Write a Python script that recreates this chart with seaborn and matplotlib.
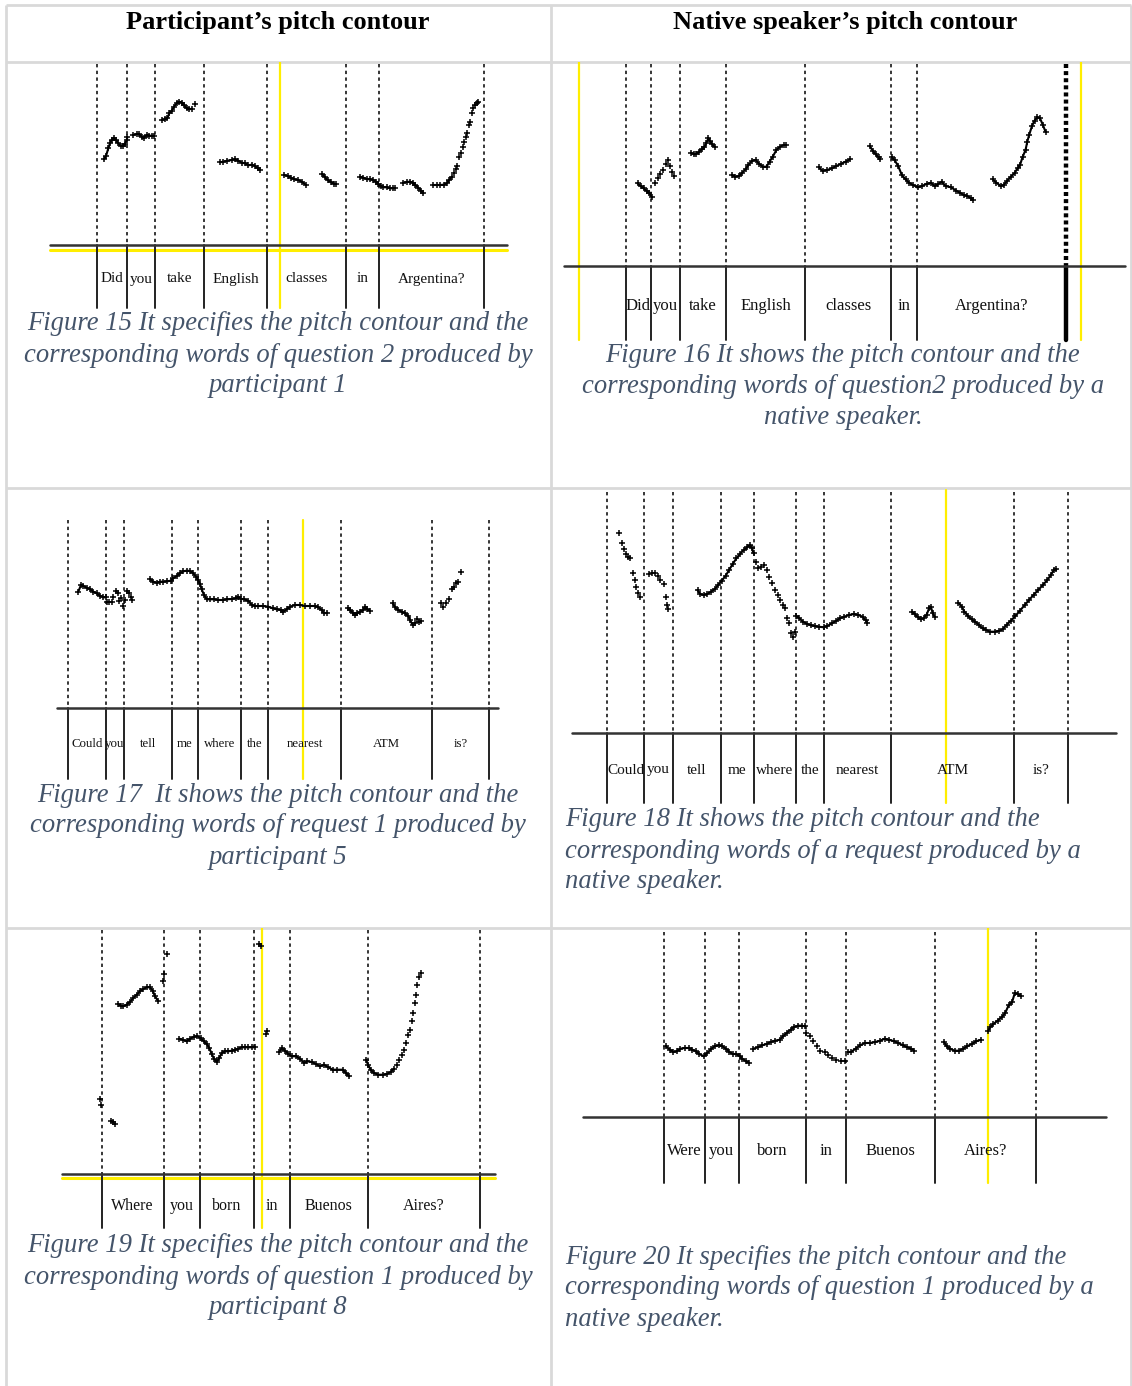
import numpy as np
import pandas as pd
import matplotlib
matplotlib.use("Agg")
import matplotlib.pyplot as plt
import seaborn as sns

sns.set_theme(style="white")
plt.rcParams["font.family"] = ["Liberation Serif", "DejaVu Serif"]

# ---------------------------------------------------------------- data
headers = ["Participant\u2019s pitch contour", "Native speaker\u2019s pitch contour"]

# Figure 15 (participant 1, question 2)
fig15_words = ["Did", "you", "take", "English", "classes", "in", "Argentina?"]
fig15_bounds = [97, 127, 155, 204, 267, 346, 379, 484]
fig15_dense = [
    ([104, 106, 108.3, 110, 111.7, 114, 116, 118.3, 120.7, 122.7, 124.7, 126.7, 127.3],
     [159.3, 156, 148.3, 143.3, 140, 138.3, 140, 143.3, 146, 146, 144, 140, 137.3]),
    ([133.3, 136.7, 139.3, 141.7, 144, 146.7, 149.3, 152, 154],
     [135, 134, 134.3, 136.7, 138, 135, 135.7, 135.7, 135.7]),
    ([161.7, 165, 167.3, 169.3, 171.7, 174, 176.7, 179.3, 182, 184.3, 186.7, 189.3, 191.7],
     [120, 119.3, 118.3, 113.3, 110.7, 106.7, 103.3, 101.7, 102.7, 105.3, 108.3, 109.3, 108.7]),
    ([220, 223.3, 227.3, 231.7, 235, 238.3, 241.7, 245, 248.3, 251.7, 255, 257.7, 260],
     [162.3, 161.7, 160.7, 160, 159.3, 160.7, 162.7, 163.3, 165.3, 164.7, 166, 168.3, 170]),
    ([284.3, 287.7, 291, 294.3, 298.3, 301.7, 306],
     [175, 176, 177.7, 179.3, 180, 181.7, 185]),
    ([322.3, 325, 327.7, 330.7, 334, 336],
     [174, 177.3, 180, 182, 183.7, 184]),
    ([360, 363.3, 366.7, 370, 373.3, 376, 378.3, 380.7, 383.3, 386.7, 390, 393.3, 395],
     [176.7, 177.7, 179, 179.3, 180, 181.7, 184, 186, 187.3, 187.3, 188.3, 188.3, 188]),
    ([403.3, 406.7, 410, 412.7, 415, 418.3, 421, 423.3],
     [182.7, 182, 181.7, 182.7, 185, 187.7, 190.7, 193.3]),
    ([433.3, 436.7, 440, 444, 446.7, 449.3, 451.7],
     [185, 185, 185, 184.7, 183.3, 180, 176.7]),
]
fig15_sparse = [
    ([195], [104]),
    ([454, 456, 457.3, 459.3, 460.7, 462.7, 464, 466, 467.3, 469.3, 470, 471.7, 473.3, 475, 476.7, 478.3],
     [173.3, 169.3, 166, 156.7, 152.7, 146.7, 141.7, 136.7, 132.7, 125, 121.7, 113.3, 108.3, 105, 102.7, 101.7]),
]

# Figure 16 (native speaker, question 2)
fig16_words = ["Did", "you", "take", "English", "classes", "in", "Argentina?"]
fig16_bounds = [626, 651, 680, 726, 805, 891, 917, 1066]
fig16_dense = [
    ([637.5, 640.7, 643.6, 646.5, 649.1, 651.6],
     [183.3, 186, 188.3, 190.7, 193.3, 196.7]),
    ([690.9, 693.8, 696.4, 698.9, 701.8, 704.4, 706.2, 708.4, 709.8, 712, 714.5],
     [152.7, 154.3, 154, 151.7, 149.3, 147.3, 143.3, 138.3, 141, 144, 146.7]),
    ([732, 735.3, 738.9, 741.8, 745.5, 748.4, 752, 755.6, 759.3, 762.9, 766.5, 769.5, 772.7, 776.4, 780, 783.6, 786.2],
     [175, 176.7, 176, 173.3, 169.3, 165, 160.7, 160, 164, 166.7, 166.7, 161.7, 156.7, 150, 146.7, 145, 145]),
    ([818.9, 822.5, 827.3, 832, 836.4, 840.7, 845.5, 850.2],
     [167.3, 170.7, 170, 168.3, 166, 164, 161.7, 159.3]),
    ([869.8, 872.7, 875.6, 878.5, 880],
     [146, 150.7, 154, 157.3, 159.3]),
    ([891.6, 894.5, 898.2, 901.8, 905.5, 909.1, 912.7, 918.2, 921.8, 926.5, 930.9, 934.5, 938.2, 941.8,
      945.5, 950.9, 956.4, 960, 963.6, 967.3, 970.9, 972.7],
     [156.7, 160, 166, 175, 179.3, 182.7, 185, 187.3, 186, 184, 182.7, 186, 184, 181.7,
      186, 187.3, 190.7, 192.7, 195, 196, 198.3, 200]),
    ([992.7, 996.4, 1000.7, 1003.6, 1007.3, 1010.9, 1014.5, 1017.5, 1020, 1022.5, 1025.5, 1027.3, 1029.1,
      1032, 1034.5, 1037.1, 1040, 1042.9, 1045.5],
     [179.3, 182.7, 186, 185, 180.7, 176.7, 173.3, 168.3, 165, 157.3, 150, 141.7, 135,
      126, 120.7, 117.3, 118.3, 125, 131.7]),
]
fig16_sparse = [
    ([655.3, 657.5, 660, 662.5, 665.5, 667.6, 669.8, 672, 674.2],
     [182.7, 178.3, 174, 170, 164, 160, 166, 171.7, 176]),
]

# Figure 17 (participant 5, request 1)
fig17_words = ["Could", "you", "tell", "me", "where", "the", "nearest", "ATM", "is?"]
fig17_bounds = [68, 106, 124, 172, 198, 241, 268, 341, 432, 489]
fig17_dense = [
    ([78.3, 81, 83.3, 86.7, 90, 93.3, 96.7, 100, 103.3, 106],
     [591.7, 585, 586, 587.7, 589.3, 591.7, 593.3, 595.7, 597.3, 597.3]),
    ([150, 153.3, 156.7, 160, 163.3, 167.3, 170.7, 173.3, 176.7, 180, 183.3, 186.7, 190, 193.3, 196, 198.3, 200,
      201.7, 204, 206.7, 210, 214, 218.3, 222.7, 226.7, 231.7, 236, 238.3, 240.7, 244, 248.3, 251.7, 255,
      258.3, 263.3, 268.3, 272.7, 276.7, 280.7, 283.3, 286.7, 290, 295, 300, 305, 310, 315, 318.3, 321.7,
      324, 327.3],
     [579.3, 581.7, 582.7, 581.7, 581.7, 581.3, 580.7, 578.3, 576, 573.3, 571.3, 570.7, 571, 573.3, 576.7, 580, 584,
      589.3, 595, 599.3, 599.3, 599.3, 600, 600, 599.3, 599, 598.3, 596.7, 598.7, 599.3, 600.7, 605, 606,
      606, 606, 606.7, 608.3, 609.3, 610, 611.7, 609.3, 606.7, 605, 605, 606, 606, 606, 607.3, 610,
      613.3, 612.7]),
    ([347.7, 350, 352.7, 355, 357.3, 360, 362.7, 365, 367.3, 370],
     [608.3, 610, 612.7, 615, 613.3, 611.7, 610, 607.3, 609.3, 610.7]),
    ([392.7, 395, 398.3, 401.7, 405, 408.3, 410, 412.7],
     [603.3, 607.3, 610, 611.7, 613.3, 616, 620, 625]),
]
fig17_sparse = [
    ([107.3, 109.3, 111.7, 113.3, 116, 117.7, 119.3, 120.7, 122.7, 125, 127.3, 129.3, 130.7, 132],
     [602.3, 602.3, 602.3, 596.7, 590.7, 592.7, 600.7, 598.3, 606, 600, 590.7, 593.3, 597.3, 600]),
    ([415, 416.7, 419.3, 420.7], [622.7, 619.3, 621.7, 620.7]),
    ([440.7, 443.3, 446, 449.3, 451.7, 454, 456, 458.3, 460.7],
     [603.3, 606.7, 602.7, 599.3, 589.3, 586.7, 583.3, 581.7, 571.7]),
]

# Figure 18 (native speaker, request)
fig18_words = ["Could", "you", "tell", "me", "where", "the", "nearest", "ATM", "is?"]
fig18_bounds = [607, 644, 673, 720.5, 754, 795.5, 824, 891, 1014, 1068]
fig18_dense = [
    ([697.5, 700, 703.6, 707.3, 710.9, 714.5, 718.2, 721.8, 725.5, 729.1, 732.7, 736.4, 740, 743.6, 747.3,
      749.8, 752, 753.5],
     [590, 594, 595, 594, 591.7, 589.3, 585, 580.7, 576, 570, 564, 558.3, 554, 550, 547.3, 545, 548.3, 553.3]),
    ([796.4, 799.3, 802.9, 807.3, 810.9, 814.5, 818.9, 823.6, 827.3, 832, 836.4, 840, 844.4, 849.1, 853.8,
      858.2, 862.5, 865.5, 867.3],
     [616, 618.3, 621.7, 624, 625.3, 626, 626.7, 627.3, 626, 623.3, 620.7, 618.3, 616.7, 615, 614,
      615, 616.7, 620, 622.7]),
    ([912, 914.5, 918.2, 920.7, 923.6, 926.5, 929.1, 930.9, 932.7, 934.5],
     [611.7, 614, 617.3, 619.3, 618.3, 615, 608.3, 606.7, 613.3, 616.7]),
    ([958.2, 961.8, 964.4, 968, 971.6, 975.3, 978.9, 982.5, 986.2, 989.8, 994.5, 999.3, 1002.9, 1006.5,
      1010.9, 1015.3, 1020, 1024.7, 1029.1, 1033.5, 1038.2, 1042.9, 1047.3, 1050.9, 1053.8, 1056.4],
     [602.7, 606.7, 611.7, 616, 619.3, 621.7, 625, 628.3, 630, 631.7, 631.7, 630.7, 629.3, 625,
      620.7, 616, 610.7, 605, 600, 595, 590, 585, 580, 575, 570, 569.3]),
]
fig18_sparse = [
    ([618.9, 621.8, 623.6, 625.5, 628.4, 629.8, 632.7, 634.5, 636.4, 638.2, 640],
     [533.3, 542.7, 549.3, 554.3, 556.7, 558.3, 572.7, 580, 586.7, 593.3, 596.7]),
    ([649.1, 651.6, 654.5, 657.5, 660, 663.6, 665.5, 667.3, 668.4],
     [574, 572.7, 572.7, 576, 580, 584, 596.7, 605, 609.3]),
    ([755.6, 758.2, 760.7, 763.6, 766.5, 769.1, 771.6, 774.5, 777.5, 780, 782.5, 784.7, 787.3, 789.1,
      790.9, 792.7, 794.5],
     [561.7, 568.3, 566.7, 565, 570, 577.3, 583.3, 590, 595, 600, 605, 608.3, 618.3, 623.3,
      633.3, 636.7, 631.7]),
]

# Figure 19 (participant 8, question 1)
fig19_words = ["Where", "you", "born", "in", "Buenos", "Aires?"]
fig19_bounds = [101.5, 163.5, 200, 254, 289.5, 368, 480]
fig19_dense = [
    ([118.3, 120.7, 123.3, 126.7, 130, 133.3, 136.7, 140, 143.3, 146.7, 150, 152.7, 155, 158.3],
     [1004, 1005.7, 1006.3, 1004.7, 1002, 998, 994.7, 991.3, 989, 987.3, 987.3, 990.7, 996.3, 1001.3]),
    ([179.3, 182.7, 186.7, 190, 194, 197.3, 200.7, 204, 206.7, 209.3, 211.7, 214, 216.7, 219.3, 221.7, 225,
      228.3, 231.7, 235, 238.3, 241.7, 245, 248.3, 251.7, 255],
     [1038.7, 1039.7, 1041.3, 1038.7, 1036.7, 1036.3, 1038, 1041.3, 1044, 1048, 1054, 1058.7, 1062, 1058, 1053,
      1051.3, 1051.3, 1050.7, 1049.7, 1048.7, 1047.3, 1047.3, 1047.3, 1047.3, 1047.3]),
    ([279.3, 281.7, 285, 288.3, 291.7, 296, 300, 304, 307.3, 311.7, 316, 320, 324, 328.3, 332.7, 337.3,
      342.7, 346, 349.3],
     [1052, 1048, 1050.7, 1054, 1056.3, 1056.3, 1058.7, 1063, 1061.3, 1062, 1064, 1066.3, 1064.7, 1067.3,
      1069.7, 1069.7, 1069.7, 1073, 1076.3]),
    ([366, 368.3, 370.7, 374, 378.3, 382.7, 386.7, 390.7, 394],
     [1059.7, 1065.3, 1069.7, 1073, 1074.7, 1074.7, 1074, 1072, 1068.7]),
]
fig19_sparse = [
    ([100, 101], [1098.7, 1104.7]),
    ([110.7, 113.3, 115], [1120.7, 1122, 1124]),
    ([162.7, 164, 166.7], [981.3, 974, 954]),
    ([259.3, 261.3], [944, 946.3]),
    ([266, 267.3], [1034, 1031.3]),
    ([397.3, 399.3, 401.7, 404, 406, 408.3, 410, 411.7, 413.3, 415, 416, 417.3, 418.7, 420.7],
     [1064.7, 1059.7, 1054.7, 1049.7, 1043, 1035.3, 1029.7, 1021.3, 1013, 1003, 994.7, 985.3, 977.3, 973]),
]

# Figure 20 (native speaker, question 1)
fig20_words = ["Were", "you", "born", "in", "Buenos", "Aires?"]
fig20_bounds = [664, 704.5, 738.5, 805.5, 846, 935, 1035.5]
fig20_dense = [
    ([665.9, 670, 673.4, 676.9, 680.3, 684.5, 689, 692.4, 695.9, 699.3, 703.8, 707.2, 711.4, 714.8, 719,
      722.4, 725.9, 729.3, 732.8, 736.2, 739.7, 742.4, 745.9, 749.3],
     [1046.3, 1049.7, 1052, 1051.3, 1048.7, 1048, 1048, 1049.7, 1051.3, 1054, 1056.3, 1053, 1048.7, 1046.3,
      1045.3, 1046.3, 1048.7, 1052, 1054, 1054, 1056.3, 1058.7, 1061.3, 1063]),
    ([753.4, 757.9, 762.4, 766.6, 770.7, 775.2, 779.7, 783.1, 786.6, 790.7, 794.1, 798.3, 801.7, 805.2],
     [1048.7, 1047.3, 1045.3, 1044, 1042, 1040.7, 1039.7, 1036.3, 1033, 1029.7, 1027, 1025.7, 1025.7, 1026.3]),
    ([847.6, 851, 855.5, 860.3, 864.8, 870, 875.2, 880.3, 884.5, 889, 894.1, 898.3, 902.8, 907.2, 911.4, 914.1],
     [1052, 1052, 1048.7, 1045.3, 1043, 1043, 1042, 1040.7, 1038.7, 1039.7, 1041.3, 1043, 1045.3, 1047.3,
      1048.7, 1050.7]),
    ([944.1, 946.6, 950, 954.5, 959, 963.1, 967.2, 971.7, 976.2, 981],
     [1042, 1046.3, 1048.7, 1050.7, 1050.7, 1048.7, 1046.3, 1044, 1041.3, 1039.7]),
    ([988, 990, 993.4, 997.6, 1001.7, 1005.2, 1008.6, 1012.1, 1014.8, 1017.6, 1021],
     [1031.3, 1027.3, 1024, 1020.7, 1017.3, 1013, 1005.3, 1002, 993, 994, 996.3]),
]
fig20_sparse = [
    ([806.2, 809.7, 813.1, 816.6, 820, 824.5, 827.9, 832.1, 836.2, 840.7, 845.2],
     [1033, 1036.3, 1041.3, 1046.3, 1050.7, 1052, 1054.7, 1058, 1059.7, 1060.7, 1060.7]),
]

captions = {
    15: ["Figure 15 It specifies the pitch contour and the",
         "corresponding words of question 2 produced by",
         "participant 1"],
    16: ["Figure 16 It shows the pitch contour and the",
         "corresponding words of question2 produced by a",
         "native speaker."],
    17: ["Figure 17  It shows the pitch contour and the",
         "corresponding words of request 1 produced by",
         "participant 5"],
    18: ["Figure 18 It shows the pitch contour and the",
         "corresponding words of a request produced by a",
         "native speaker."],
    19: ["Figure 19 It specifies the pitch contour and the",
         "corresponding words of question 1 produced by",
         "participant 8"],
    20: ["Figure 20 It specifies the pitch contour and the",
         "corresponding words of question 1 produced by a",
         "native speaker."],
}

# ---------------------------------------------------------------- layout
W, H = 1132, 1386
GRID = "#d9d9d9"
CAP = "#44546a"
YEL = "#ffee00"

layout = {
    15: dict(rect=(6, 62, 551, 488), base=245, base_x=(50, 507), top=64, bottom=308, word_y=279, word_fs=11,
             yv=[(280, 62, 308)], yh=[(250, 50, 507)], thick=None, cap_x=278, cap_y=324, cap_ha="center"),
    16: dict(rect=(551, 62, 1132, 488), base=266, base_x=(564, 1125), top=64, bottom=340, word_y=306, word_fs=12,
             yv=[(579, 62, 340), (1081, 62, 340)], yh=[], thick=1066, cap_x=843, cap_y=356, cap_ha="center"),
    17: dict(rect=(6, 488, 551, 928), base=708, base_x=(57, 498), top=520, bottom=779, word_y=744, word_fs=9.3,
             yv=[(303, 520, 779)], yh=[], thick=None, cap_x=278, cap_y=795, cap_ha="center"),
    18: dict(rect=(551, 488, 1132, 928), base=733, base_x=(572, 1116), top=492, bottom=803, word_y=770, word_fs=11,
             yv=[(946, 490, 803)], yh=[], thick=None, cap_x=565, cap_y=820, cap_ha="left"),
    19: dict(rect=(6, 928, 551, 1386), base=1174, base_x=(62, 495), top=930, bottom=1228, word_y=1206, word_fs=11.5,
             yv=[(262, 928, 1228)], yh=[(1178, 62, 495)], thick=None, cap_x=278, cap_y=1246, cap_ha="center"),
    20: dict(rect=(551, 928, 1132, 1386), base=1117, base_x=(583, 1106), top=932, bottom=1183, word_y=1151,
             word_fs=12, yv=[(988, 928, 1183)], yh=[], thick=None, cap_x=565, cap_y=1257, cap_ha="left"),
}

panels = {
    15: (fig15_words, fig15_bounds, fig15_dense, fig15_sparse),
    16: (fig16_words, fig16_bounds, fig16_dense, fig16_sparse),
    17: (fig17_words, fig17_bounds, fig17_dense, fig17_sparse),
    18: (fig18_words, fig18_bounds, fig18_dense, fig18_sparse),
    19: (fig19_words, fig19_bounds, fig19_dense, fig19_sparse),
    20: (fig20_words, fig20_bounds, fig20_dense, fig20_sparse),
}

fig = plt.figure(figsize=(W / 100, H / 100), dpi=100)
fig.patch.set_facecolor("white")

# table frame
bg = fig.add_axes([0, 0, 1, 1])
bg.set_xlim(0, W)
bg.set_ylim(H, 0)
bg.axis("off")
for x in (6, 551, 1131):
    bg.plot([x, x], [5, H], color=GRID, lw=2, solid_capstyle="butt")
for y in (5, 62, 488, 928):
    bg.plot([6, 1131], [y, y], color=GRID, lw=2, solid_capstyle="butt")
bg.text(278, 23, headers[0], ha="center", va="center", fontsize=19, fontweight="bold", color="black")
bg.text(845, 23, headers[1], ha="center", va="center", fontsize=19, fontweight="bold", color="black")


def make_frame(segs, kind):
    rows = []
    for i, (xs, ys) in enumerate(segs):
        for x, y in zip(xs, ys):
            rows.append({"time": x, "pitch": y, "seg": f"{kind}{i}"})
    return pd.DataFrame(rows, columns=["time", "pitch", "seg"])


for num, (words, bounds, dense, sparse) in panels.items():
    L = layout[num]
    x0, y0, x1, y1 = L["rect"]
    ax = fig.add_axes([x0 / W, 1 - y1 / H, (x1 - x0) / W, (y1 - y0) / H])
    ax.set_facecolor("none")
    ax.patch.set_alpha(0)

    # yellow editing guides
    for (x, ya, yb) in L["yv"]:
        ax.plot([x, x], [ya, yb], color=YEL, lw=1.6, zorder=1)
    for (y, xa, xb) in L["yh"]:
        ax.plot([xa, xb], [y, y], color=YEL, lw=2.2, zorder=1)

    # word boundaries: dashed over the contour, solid in the word tier
    for b in bounds:
        is_thick = L["thick"] is not None and abs(b - L["thick"]) < 1
        if is_thick:
            ax.plot([b, b], [L["top"], L["base"]], color="black", lw=3.2, ls=(0, (0.9, 0.7)), zorder=2)
            ax.plot([b, b], [L["base"], L["bottom"]], color="black", lw=3.2, zorder=2)
        else:
            ax.plot([b, b], [L["top"], L["base"]], color="black", lw=1.1, ls=(0, (2.2, 2.2)), zorder=2)
            ax.plot([b, b], [L["base"], L["bottom"]], color="#222222", lw=1.4, zorder=2)
    ax.plot(list(L["base_x"]), [L["base"], L["base"]], color="#333333", lw=1.8, zorder=2)

    # words in the tier
    for w, a, b in zip(words, bounds[:-1], bounds[1:]):
        ax.text((a + b) / 2, L["word_y"], w, ha="center", va="center", fontsize=L["word_fs"], color="#111111")

    # pitch contour
    d_df = make_frame(dense, "d")
    s_df = make_frame(sparse, "s")
    sns.lineplot(data=d_df, x="time", y="pitch", units="seg", estimator=None, sort=False,
                 color="black", lw=1.5, ax=ax, legend=False, zorder=3)
    all_df = pd.concat([d_df, s_df], ignore_index=True)
    sns.scatterplot(data=all_df, x="time", y="pitch", marker="+", s=13, color="black",
                    linewidth=1.1, ax=ax, legend=False, zorder=4)

    # caption
    for k, line in enumerate(captions[num]):
        ax.text(L["cap_x"], L["cap_y"] + 31 * k, line, ha=L["cap_ha"], va="center",
                fontsize=19.2, style="italic", color=CAP)

    ax.set_xlim(x0, x1)
    ax.set_ylim(y1, y0)
    ax.axis("off")

fig.savefig("out.png", dpi=100, facecolor="white")
